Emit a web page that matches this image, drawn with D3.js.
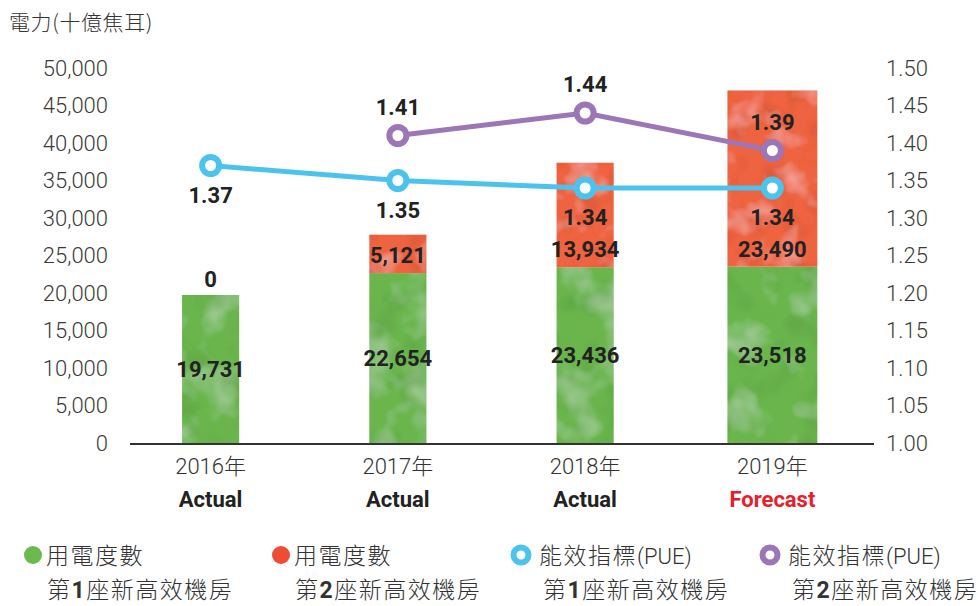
<!DOCTYPE html>
<html>
<head>
<meta charset="utf-8">
<script src="https://cdn.jsdelivr.net/npm/d3@7/dist/d3.min.js"></script>
<style>
  html, body { margin: 0; padding: 0; background: #fff; }
  svg { display: block; }
  text { font-family: Roboto, "Noto Sans CJK TC", sans-serif; }
  .cjk { font-family: "Noto Sans CJK TC", "Noto Sans", sans-serif; }
</style>
</head>
<body>
<svg id="chart" width="978" height="606"></svg>
<script>
// Annual electricity use (billion joules) and PUE for the two new high-efficiency data halls
const years = ["2016年", "2017年", "2018年", "2019年"];
const status = ["Actual", "Actual", "Actual", "Forecast"];
const hall1Power = [19731, 22654, 23436, 23518];
const hall2Power = [0, 5121, 13934, 23490];
const hall1PUE = [1.37, 1.35, 1.34, 1.34];
const hall2PUE = [null, 1.41, 1.44, 1.39];
const powerTicks = [0, 5000, 10000, 15000, 20000, 25000, 30000, 35000, 40000, 45000, 50000];
const pueTicks = [1.00, 1.05, 1.10, 1.15, 1.20, 1.25, 1.30, 1.35, 1.40, 1.45, 1.50];
const legendItems = [
  { head: "用電度數", tail: "", pre: "第", num: "1", post: "座新高效機房", color: "#6cb94e", ring: false },
  { head: "用電度數", tail: "", pre: "第", num: "2", post: "座新高效機房", color: "#ee4c35", ring: false },
  { head: "能效指標", tail: "(PUE)", pre: "第", num: "1", post: "座新高效機房", color: "#4cc3ee", ring: true },
  { head: "能效指標", tail: "(PUE)", pre: "第", num: "2", post: "座新高效機房", color: "#9c76b7", ring: true }
];

const svg = d3.select("#chart");
const green = "#6ab64e", red = "#ee6441", blue = "#4cc3ee", purple = "#9c76b7";

// soft watercolour-like mottling for the bars
const defs = svg.append("defs");
function mottle(id, seed, freq) {
  const f = defs.append("filter").attr("id", id)
    .attr("x", 0).attr("y", 0).attr("width", 1).attr("height", 1);
  f.append("feTurbulence").attr("type", "fractalNoise").attr("baseFrequency", freq)
    .attr("numOctaves", 3).attr("seed", seed).attr("result", "noise");
  f.append("feColorMatrix").attr("in", "noise").attr("type", "matrix")
    .attr("values", "0 0 0 0 1  0 0 0 0 1  0 0 0 0 1  0 0 0 0.7 -0.36").attr("result", "light");
  f.append("feComposite").attr("in", "light").attr("in2", "SourceGraphic").attr("operator", "in").attr("result", "lightIn");
  f.append("feTurbulence").attr("type", "fractalNoise").attr("baseFrequency", freq * 1.4)
    .attr("numOctaves", 2).attr("seed", seed + 7).attr("result", "noise2");
  f.append("feColorMatrix").attr("in", "noise2").attr("type", "matrix")
    .attr("values", "0 0 0 0 0  0 0 0 0 0  0 0 0 0 0  0 0 0 0.45 -0.22").attr("result", "dark");
  f.append("feComposite").attr("in", "dark").attr("in2", "SourceGraphic").attr("operator", "in").attr("result", "darkIn");
  const m = f.append("feMerge");
  m.append("feMergeNode").attr("in", "SourceGraphic");
  m.append("feMergeNode").attr("in", "darkIn");
  m.append("feMergeNode").attr("in", "lightIn");
}
mottle("mottleG", 4, 0.025);
mottle("mottleR", 11, 0.03);

const x = d3.scaleBand().domain(years).range([117, 866]);
const yL = d3.scaleLinear().domain([0, 50000]).range([443, 68]);
const yR = d3.scaleLinear().domain([1.0, 1.5]).range([443, 68]);
const cx = d => x(d) + x.bandwidth() / 2;
const barW = (i) => status[i] === "Forecast" ? x.bandwidth() * 0.48 : x.bandwidth() * 0.305;

// unit title
svg.append("text").attr("class", "cjk").attr("x", 9).attr("y", 30)
  .attr("font-size", 21).attr("font-weight", 300).attr("letter-spacing", 0.6)
  .attr("fill", "#333").text("電力(十億焦耳)");

// left axis
const axL = svg.append("g").attr("transform", "translate(130,0)")
  .call(d3.axisLeft(yL).tickValues(powerTicks).tickSize(0).tickPadding(22).tickFormat(d3.format(",")));
axL.select(".domain").remove();
axL.selectAll("text").attr("font-size", 22).attr("font-weight", 300).attr("fill", "#3a3a3a")
  .attr("font-family", "Roboto");

// right axis
const axR = svg.append("g").attr("transform", "translate(874,0)")
  .call(d3.axisRight(yR).tickValues(pueTicks).tickSize(0).tickPadding(12).tickFormat(d3.format(".2f")));
axR.select(".domain").remove();
axR.selectAll("text").attr("font-size", 22).attr("font-weight", 300).attr("fill", "#3a3a3a")
  .attr("font-family", "Roboto");

// bars: hall 1 at the bottom, hall 2 stacked on top
const rows = years.map((y, i) => ({ y, i, a: hall1Power[i], b: hall2Power[i] }));
const bars = svg.append("g");
bars.selectAll("rect.g1").data(rows).join("rect").attr("class", "g1")
  .attr("x", d => cx(d.y) - barW(d.i) / 2).attr("width", d => barW(d.i))
  .attr("y", d => yL(d.a)).attr("height", d => yL(0) - yL(d.a))
  .attr("fill", green).attr("filter", "url(#mottleG)");
bars.selectAll("rect.g2").data(rows.filter(d => d.b > 0)).join("rect").attr("class", "g2")
  .attr("x", d => cx(d.y) - barW(d.i) / 2).attr("width", d => barW(d.i))
  .attr("y", d => yL(d.a + d.b)).attr("height", d => yL(d.a) - yL(d.a + d.b))
  .attr("fill", red).attr("filter", "url(#mottleR)");

// baseline
svg.append("line").attr("x1", 130).attr("x2", 874).attr("y1", 444).attr("y2", 444)
  .attr("stroke", "#333").attr("stroke-width", 2);

// bar value labels
const vfmt = d3.format(",");
svg.append("g").selectAll("text").data(rows).join("text")
  .attr("x", d => cx(d.y)).attr("y", d => yL(d.a / 2) + 8).attr("text-anchor", "middle")
  .attr("font-size", 22).attr("font-weight", 700).attr("fill", "#222").text(d => vfmt(d.a));
svg.append("g").selectAll("text").data(rows).join("text")
  .attr("x", d => cx(d.y))
  .attr("y", d => d.b > 0 ? yL(d.a) - 10 : yL(d.a) - 8)
  .attr("text-anchor", "middle")
  .attr("font-size", 22).attr("font-weight", 700).attr("fill", "#222").text(d => vfmt(d.b));

// PUE lines
function pueSeries(vals, color, above) {
  const pts = years.map((y, i) => ({ y, v: vals[i] })).filter(d => d.v != null);
  const line = d3.line().x(d => cx(d.y)).y(d => yR(d.v));
  const g = svg.append("g");
  g.append("path").datum(pts).attr("d", line).attr("fill", "none")
    .attr("stroke", color).attr("stroke-width", 5);
  g.selectAll("circle").data(pts).join("circle")
    .attr("cx", d => cx(d.y)).attr("cy", d => yR(d.v)).attr("r", 8.5)
    .attr("fill", "#fff").attr("stroke", color).attr("stroke-width", 6);
  g.selectAll("text").data(pts).join("text")
    .attr("x", d => cx(d.y)).attr("y", d => yR(d.v) + (above ? -21 : 37))
    .attr("text-anchor", "middle").attr("font-size", 22).attr("font-weight", 700)
    .attr("fill", "#222").text(d => d.v.toFixed(2));
}
pueSeries(hall1PUE, blue, false);
pueSeries(hall2PUE, purple, true);

// category labels
const cat = svg.append("g");
cat.selectAll("text.yr").data(years).join("text").attr("class", "yr")
  .attr("x", d => cx(d)).attr("y", 474).attr("text-anchor", "middle")
  .attr("font-size", 22).attr("font-weight", 300).attr("fill", "#333").text(d => d);
cat.selectAll("text.st").data(years).join("text").attr("class", "st")
  .attr("x", d => cx(d)).attr("y", 507).attr("text-anchor", "middle")
  .attr("font-size", 22).attr("font-weight", 700)
  .attr("fill", (d, i) => status[i] === "Forecast" ? "#e8202a" : "#222")
  .text((d, i) => status[i]);

// legend
const legX = [33, 281, 521, 770];
const lg = svg.append("g");
legendItems.forEach((it, i) => {
  const g = lg.append("g").attr("transform", `translate(${legX[i]},0)`);
  if (it.ring) {
    g.append("circle").attr("cx", 0).attr("cy", 555).attr("r", 7.5)
      .attr("fill", "#fff").attr("stroke", it.color).attr("stroke-width", 6);
  } else {
    g.append("circle").attr("cx", 0).attr("cy", 555).attr("r", 9).attr("fill", it.color);
  }
  const h = g.append("text").attr("class", "cjk").attr("x", it.ring ? 18 : 13).attr("y", 564)
    .attr("font-size", 23).attr("font-weight", 300).attr("fill", "#333");
  h.append("tspan").attr("letter-spacing", 1.5).text(it.head);
  if (it.tail) h.append("tspan").attr("font-family", "Roboto").attr("font-size", 22).text(it.tail);
  const t = g.append("text").attr("class", "cjk").attr("x", it.ring ? 22 : 14).attr("y", 598)
    .attr("font-size", 23).attr("font-weight", 300).attr("letter-spacing", 1.5)
    .attr("fill", "#333");
  t.append("tspan").text(it.pre);
  t.append("tspan").attr("font-weight", 700).attr("font-family", "Roboto").text(it.num);
  t.append("tspan").text(it.post);
});
</script>
</body>
</html>
